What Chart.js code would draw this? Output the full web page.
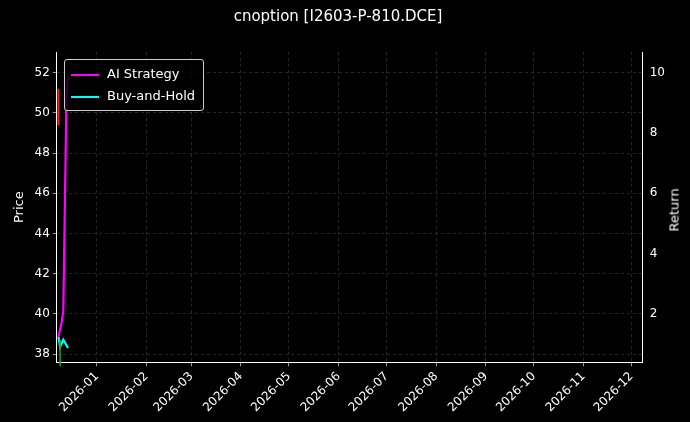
<!DOCTYPE html>
<html><head><meta charset="utf-8">
<script src="https://cdn.jsdelivr.net/npm/chart.js@4"></script>
<style>
body{margin:0;background:#000;}
#wrap{position:relative;width:690px;height:422px;}
#leg{position:absolute;left:64px;top:59px;border:1px solid #ccc;border-radius:3px;background:rgba(0,0,0,0.8);padding:3px 8px 3px 6px;font:13px "DejaVu Sans";color:#fff;line-height:22px}
#leg span{display:inline-block;width:28px;height:2px;vertical-align:middle;margin-right:8px}
#rt{position:absolute;left:674px;top:210px;transform:translate(-50%,-50%) rotate(-90deg);font:13px "DejaVu Sans";color:#fff;white-space:nowrap}
</style></head><body>
<div id="wrap"><canvas id="c" width="690" height="422"></canvas>
<div id="leg"><div><span style="background:#ff00ff"></span>AI Strategy</div><div><span style="background:#00ffff"></span>Buy-and-Hold</div></div>
<div id="rt">Return</div></div>
<script>
const stratDates=['2025-12-08','2025-12-10','2025-12-11','2025-12-13','2025-12-14'];
const stratReturn=[1.24,1.72,2.07,9.2,9.9];
const bhDates=['2025-12-08','2025-12-09','2025-12-11','2025-12-14'];
const bhReturn=[1.24,0.9,1.14,0.86];
const redDates=['2025-12-08','2025-12-08'];
const redPrice=[51.2,49.4];
const greenDates=['2025-12-09','2025-12-09'];
const greenPrice=[38.7,37.4];
const monthTicks=['2026-01','2026-02','2026-03','2026-04','2026-05','2026-06','2026-07','2026-08','2026-09','2026-10','2026-11','2026-12'];
const t=s=>Date.parse(s.length===7?s+'-01T00:00:00Z':s+'T00:00:00Z');
const pts=(d,v)=>d.map((x,i)=>({x:t(x),y:v[i]}));
const grid={color:'rgba(140,140,140,0.45)',lineWidth:0.6,drawTicks:true,tickColor:'#fff',tickLength:4};
const bord={color:'#fff',dash:[3,3]};
new Chart(document.getElementById('c'),{type:'line',
data:{datasets:[
{data:pts(redDates,redPrice),borderColor:'#ff2020',borderWidth:2,pointRadius:0,yAxisID:'y'},
{data:pts(greenDates,greenPrice),borderColor:'#20a020',borderWidth:1.5,pointRadius:0,yAxisID:'y'},
{label:'AI Strategy',data:pts(stratDates,stratReturn),borderColor:'#ff00ff',borderWidth:2.2,pointRadius:0,yAxisID:'y2'},
{label:'Buy-and-Hold',data:pts(bhDates,bhReturn),borderColor:'#00ffff',borderWidth:2.2,pointRadius:0,yAxisID:'y2'}]},
options:{responsive:false,animation:false,clip:false,
layout:{padding:{left:8,right:22,top:0,bottom:4}},
plugins:{legend:{display:false},title:{display:true,text:'cnoption [I2603-P-810.DCE]',color:'#fff',font:{family:'DejaVu Sans',size:15,weight:'normal'},padding:{top:8,bottom:26}}},
scales:{
x:{type:'linear',min:t('2025-12-07'),max:t('2026-12-08'),
 afterBuildTicks:a=>{a.ticks=monthTicks.map(m=>({value:t(m)}));},
 ticks:{color:'#fff',maxRotation:45,minRotation:45,font:{family:'DejaVu Sans',size:12},callback:v=>{const d=new Date(v);return d.getUTCFullYear()+'-'+String(d.getUTCMonth()+1).padStart(2,'0');}},
 grid:grid,border:bord},
y:{position:'left',min:37.59,max:53.03,afterBuildTicks:a=>{a.ticks=[38,40,42,44,46,48,50,52].map(v=>({value:v}));},
 ticks:{color:'#fff',font:{family:'DejaVu Sans',size:12}},grid:grid,border:bord,
 title:{display:true,text:'Price',color:'#fff',font:{family:'DejaVu Sans',size:13}}},
y2:{position:'right',min:0.385,max:10.69,afterBuildTicks:a=>{a.ticks=[2,4,6,8,10].map(v=>({value:v}));},
 ticks:{color:'#fff',font:{family:'DejaVu Sans',size:12}},grid:{display:false,tickColor:'#fff',tickLength:4},border:{color:'#fff'}}
}},
plugins:[{id:'bg',beforeDraw:c=>{const x=c.ctx;x.save();x.fillStyle='#000';x.fillRect(0,0,c.width,c.height);x.restore();}}]
});
</script></body></html>
